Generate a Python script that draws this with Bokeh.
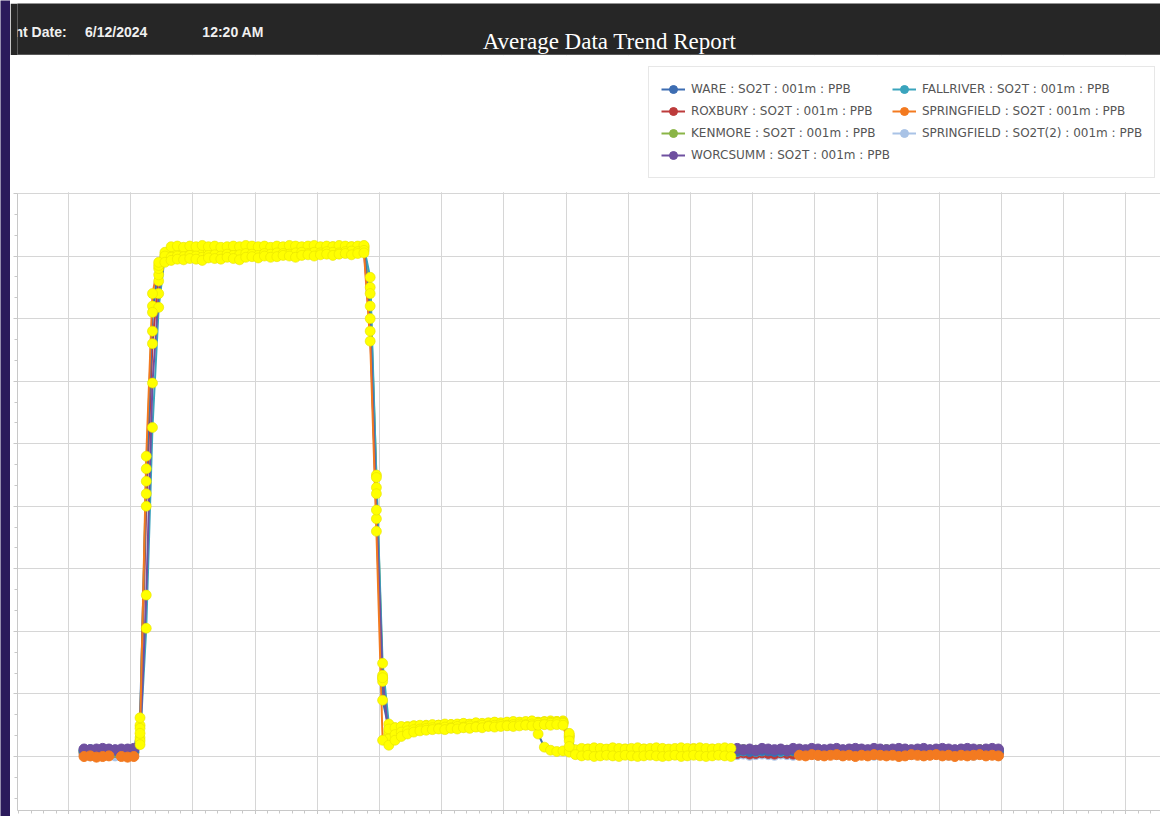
from bokeh.plotting import figure
from bokeh.models import (ColumnDataSource, Range1d, Legend, LegendItem, Label,
                          SingleIntervalTicker, CDSView, IndexFilter, Span,
                          CustomLabelingPolicy, BoxAnnotation)
from bokeh.layouts import column, row
from bokeh.embed import file_html
from bokeh.resources import INLINE

nan = float("nan")

# sample times (minutes, sampled at the half minute)
minute = [m + 0.5 for m in range(12, 160)]

ware = [
    1.0, 1.1, 1.0, 0.9, 1.1, 1.0, 1.0, 1.1, 0.9,
    6.2, 44.0, 71.0, 78.5,
    80.6,
    81.5, 81.6, 81.4, 81.6, 81.5, 81.7, 81.5, 81.6, 81.4, 81.5,
    81.6, 81.5, 81.7, 81.6, 81.5, 81.6, 81.4, 81.6, 81.5, 81.7,
    81.6, 81.5, 81.6, 81.7, 81.5, 81.6, 81.5, 81.7, 81.6, 81.5,
    81.6, 81.7,
    70.0, 38.0, 9.0,
    4.4, 4.6, 4.8, 4.7, 4.9, 5.0, 4.9, 5.1, 5.0, 5.2,
    5.1, 5.2, 5.3, 5.2, 5.4, 5.3, 5.4, 5.5, 5.4, 5.5,
    5.6, 5.5, 5.6, 5.7,
    3.6, 1.5, 1.0, 0.8, 0.9,
    0.7, 0.9,
    0.8, 1.0, 0.9, 0.8, 1.0, 0.9, 1.1, 0.9, 0.8, 1.0,
    0.9, 1.0, 1.1, 0.9, 1.0, 0.8, 0.9, 1.0, 1.1, 0.9,
    1.0, 0.9, 1.0, 1.1, 1.0,
    0.9, 1.0, 0.8, 0.9, 1.0, 0.9, 0.8, 1.0, 0.9, 1.0,
    0.9, 0.8, 1.0, 0.9, 1.0, 0.8, 0.9, 1.0, 0.9, 1.0,
    0.8, 0.9, 1.0, 0.9, 0.8, 1.0, 0.9, 1.0, 0.9, 0.8,
    1.0, 0.9, 1.0, 0.9, 0.8, 0.9, 1.0, 0.9, 1.0, 0.8,
    0.9, 1.0, 0.9,
]

roxbury = [
    0.6, 0.7, 0.6, 0.5, 0.6, 0.7, 0.6, 0.5, 0.6,
    3.0, 40.0, 66.0, 77.0,
    79.5,
    80.0, 80.2, 80.1, 80.3, 80.2, 80.0, 80.3, 80.4, 80.2, 80.5,
    80.4, 80.3, 80.6, 80.5, 80.4, 80.7, 80.5, 80.6, 80.8, 80.7,
    80.6, 80.8, 80.9, 80.7, 80.9, 80.8, 81.0, 80.9, 80.8, 81.0,
    81.1, 81.0,
    72.0, 42.0, 12.0,
    3.4, 3.9, 4.2, 4.4, 4.5, 4.6, 4.5, 4.7, 4.8, 4.7,
    4.9, 4.8, 5.0, 4.9, 5.1, 5.0, 5.1, 5.2, 5.1, 5.3,
    5.2, 5.3, 5.4, 5.3, 5.4, 5.5, 5.4, 5.5, 5.4,
    3.0, 0.7,
    0.5, 0.6, 0.4, 0.6, 0.5, 0.7, 0.5, 0.6, 0.4, 0.5,
    0.6, 0.5, 0.7, 0.6, 0.5, 0.4, 0.6, 0.5, 0.7, 0.6,
    0.5, 0.6, 0.4, 0.5, 0.6,
    0.5, 0.6, 0.4, 0.5, 0.6, 0.5, 0.4, 0.6, 0.5, 0.4,
    0.6, 0.5, 0.6, 0.4, 0.5, 0.6, 0.5, 0.4, 0.6, 0.5,
    0.6, 0.5, 0.4, 0.5, 0.6, 0.5, 0.4, 0.6, 0.5, 0.6,
    0.4, 0.5, 0.6, 0.5, 0.4, 0.5, 0.6, 0.5, 0.4, 0.6,
    0.5, 0.5, 0.6,
]

kenmore = [
    0.8, 0.7, 0.9, 0.8, 0.8, 0.7, 0.9, 0.8, 0.7,
    4.5, 46.0, 72.0, 78.0,
    79.8,
    80.3, 80.5, 80.4, 80.6, 80.5, 80.4, 80.7, 80.6, 80.5, 80.8,
    80.6, 80.7, 80.9, 80.8, 80.6, 80.9, 80.8, 81.0, 80.9, 80.8,
    81.0, 81.1, 80.9, 81.0, 81.1, 81.0, 81.2, 81.1, 81.0, 81.2,
    81.1, 81.3,
    74.0, 45.0, 13.0,
    4.0, 4.3, 4.4, 4.6, 4.6, 4.7, 4.8, 4.7, 4.9, 4.8,
    5.0, 4.9, 5.1, 5.0, 5.2, 5.1, 5.2, 5.3, 5.2, 5.3,
    5.4, 5.3, 5.4, 5.5, 5.4, 5.5, 5.4, 5.6, 5.5,
    3.4, 0.9,
    1.1, 1.2, 1.0, 1.2, 1.1, 1.3, 1.1, 1.2, 1.0, 1.1,
    1.2, 1.1, 1.3, 1.2, 1.1, 1.0, 1.2, 1.1, 1.3, 1.2,
    1.1, 1.2, 1.0, 1.1, 1.2,
    1.0, 1.1, 0.9, 1.0, 1.1, 1.0, 0.9, 1.1, 1.0, 0.9,
    1.1, 1.0, 1.1, 0.9, 1.0, 1.1, 1.0, 0.9, 1.1, 1.0,
    1.1, 1.0, 0.9, 1.0, 1.1, 1.0, 0.9, 1.1, 1.0, 1.1,
    0.9, 1.0, 1.1, 1.0, 0.9, 1.0, 1.1, 1.0, 0.9, 1.1,
    1.0, 1.0, 0.9,
]

worcsumm = [
    1.2, 1.1, 1.2, 1.3, 1.2, 1.1, 1.2, 1.2, 1.3,
    1.9, 25.8, 59.7, 74.0,
    80.0,
    79.8, 80.0, 79.9, 80.1, 80.0, 79.8, 80.1, 80.2, 80.0, 80.3,
    80.1, 80.2, 80.4, 80.3, 80.1, 80.4, 80.3, 80.5, 80.4, 80.3,
    80.5, 80.6, 80.4, 80.6, 80.5, 80.7, 80.6, 80.5, 80.7, 80.8,
    80.7, 80.9,
    68.0, 39.4, 12.6,
    2.8, 3.5, 3.9, 4.1, 4.3, 4.4, 4.5, 4.6, 4.5, 4.7,
    4.6, 4.8, 4.7, 4.9, 4.8, 5.0, 4.9, 5.0, 5.1, 5.0,
    5.1, 5.2, 5.1, 5.2, 5.3, 5.2, 5.3, 5.4, 5.3,
    2.5, 1.1,
    1.3, 1.2, 1.4, 1.3, 1.2, 1.4, 1.3, 1.2, 1.3, 1.4,
    1.2, 1.3, 1.4, 1.3, 1.2, 1.3, 1.4, 1.3, 1.2, 1.4,
    1.3, 1.2, 1.3, 1.4, 1.3,
    1.3, 1.1, 1.2, 1.0, 1.3, 1.2, 1.1, 1.2, 1.0, 1.3,
    1.2, 1.1, 1.3, 1.2, 1.1, 1.2, 1.3, 1.1, 1.2, 1.3,
    1.2, 1.1, 1.3, 1.2, 1.1, 1.2, 1.3, 1.2, 1.1, 1.2,
    1.3, 1.1, 1.2, 1.3, 1.2, 1.1, 1.2, 1.3, 1.2, 1.1,
    1.2, 1.3, 1.2,
]

fallriver = [
    0.9, 1.0, 0.9, 0.9, 1.0, 0.9, 0.8, 0.9, 1.0,
    2.5, 20.5, 52.6, 71.8,
    80.2,
    81.0, 81.1, 80.9, 81.2, 81.0, 81.1, 80.8, 81.0, 81.2, 81.1,
    80.9, 81.0, 81.2, 81.1, 81.0, 81.3, 81.1, 81.0, 81.2, 81.3,
    81.1, 81.2, 81.0, 81.3, 81.2, 81.1, 81.3, 81.2, 81.4, 81.3,
    81.2, 81.4,
    76.6, 44.6, 14.9,
    5.2, 4.6, 4.7, 4.8, 4.9, 4.8, 5.0, 4.9, 5.0, 4.9,
    5.0, 5.1, 5.0, 5.1, 5.2, 5.1, 5.2, 5.3, 5.2, 5.3,
    5.4, 5.3, 5.4, 5.3, 5.4, 5.5, 5.4, 5.5, 5.4,
    3.7, 1.0,
    0.9, 1.1, 1.0, 0.9, 1.1, 1.0, 0.8, 1.0, 1.1, 0.9,
    1.0, 1.1, 0.9, 1.0, 0.8, 1.0, 1.1, 0.9, 1.0, 1.1,
    0.9, 1.0, 0.8, 1.0, 1.1,
    0.8, 0.9, 1.0, 0.8, 0.9, 1.0, 0.9, 0.8, 0.9, 1.0,
    0.8, 0.9, 1.0, 0.9, 0.8, 1.0, 0.9, 0.8, 0.9, 1.0,
    0.9, 0.8, 1.0, 0.9, 1.0, 0.8, 0.9, 1.0, 0.9, 0.8,
    0.9, 1.0, 0.9, 0.8, 1.0, 0.9, 0.8, 0.9, 1.0, 0.9,
    0.8, 0.9, 1.0,
]

springfield = [
    0.0, 0.1, -0.1, 0.0, 0.1, nan, 0.0, -0.1, 0.0,
    3.7, 48.0, 74.0, 79.0,
    79.0,
    79.3, 79.5, 79.4, 79.6, 79.5, 79.3, 79.7, 79.6, 79.5, 79.8,
    79.6, 79.4, 79.8, 79.9, 79.7, 80.0, 79.8, 79.9, 80.1, 80.0,
    79.8, 80.1, 80.2, 80.0, 80.2, 80.3, 80.1, 80.3, 80.4, 80.2,
    80.4, 80.5,
    66.4, 36.0, 2.6,
    1.8, 2.6, 3.2, 3.6, 3.9, 4.1, 4.2, 4.3, 4.4, 4.3,
    4.5, 4.4, 4.6, 4.5, 4.7, 4.6, 4.8, 4.7, 4.8, 4.9,
    4.8, 4.9, 5.0, 4.9, 5.0, 5.1, 5.0, 5.1, 5.0,
    1.6, 0.3,
    0.1, 0.2, 0.0, 0.1, 0.2, 0.1, 0.0, 0.2, 0.1, 0.0,
    0.1, 0.2, 0.1, 0.0, 0.1, 0.2, 0.0, 0.1, 0.2, 0.1,
    0.0, 0.1, 0.2, 0.1, 0.0,
    nan, nan, nan, nan, nan, nan, nan, nan, nan, nan,
    0.2, 0.1, 0.3, 0.2, 0.1, 0.2, 0.3, 0.1, 0.2, 0.0,
    0.2, 0.1, 0.3, 0.2, 0.1, 0.2, 0.0, 0.1, 0.3, 0.2,
    0.1, 0.2, 0.3, 0.1, 0.2, 0.0, 0.2, 0.1, 0.2, 0.3,
    0.1, 0.2, 0.1,
]

springfield2 = [
    0.2, 0.1, 0.2, 0.3, 0.2, 0.1, 0.2, 0.3, 0.2,
    5.0, 42.0, 68.0, 76.0,
    79.6,
    80.6, 80.8, 80.7, 80.9, 80.8, 80.7, 81.0, 80.9, 80.8, 81.1,
    80.9, 81.0, 81.2, 81.1, 80.9, 81.2, 81.1, 81.3, 81.2, 81.1,
    81.3, 81.4, 81.2, 81.3, 81.4, 81.3, 81.5, 81.4, 81.3, 81.5,
    81.4, 81.6,
    75.0, 43.0, 12.5,
    3.6, 4.1, 4.4, 4.6, 4.7, 4.8, 4.9, 4.8, 5.0, 4.9,
    5.1, 5.0, 5.2, 5.1, 5.3, 5.2, 5.3, 5.4, 5.3, 5.4,
    5.5, 5.4, 5.5, 5.6, 5.5, 5.6, 5.7, 5.6, 5.7,
    3.2, 0.6,
    0.3, 0.4, 0.2, 0.3, 0.4, 0.3, 0.2, 0.4, 0.3, 0.2,
    0.3, 0.4, 0.3, 0.2, 0.3, 0.4, 0.2, 0.3, 0.4, 0.3,
    0.2, 0.3, 0.4, 0.3, 0.2,
    0.3, 0.4, 0.2, 0.3, 0.4, 0.3, 0.2, 0.4, 0.3, 0.2,
    0.4, 0.3, 0.4, 0.2, 0.3, 0.4, 0.3, 0.2, 0.4, 0.3,
    0.4, 0.3, 0.2, 0.3, 0.4, 0.3, 0.2, 0.4, 0.3, 0.4,
    0.2, 0.3, 0.4, 0.3, 0.2, 0.3, 0.4, 0.3, 0.2, 0.4,
    0.3, 0.3, 0.2,
]

labels = [
    "WARE : SO2T : 001m : PPB",
    "ROXBURY : SO2T : 001m : PPB",
    "KENMORE : SO2T : 001m : PPB",
    "WORCSUMM : SO2T : 001m : PPB",
    "FALLRIVER : SO2T : 001m : PPB",
    "SPRINGFIELD : SO2T : 001m : PPB",
    "SPRINGFIELD : SO2T(2) : 001m : PPB",
]
values = [ware, roxbury, kenmore, worcsumm, fallriver, springfield, springfield2]
colors = ["#3d6db2", "#bd3b3b", "#8ab547", "#6f50a0", "#3aa4bd", "#f37a20", "#a9c3e6"]
draw_order = [6, 1, 2, 4, 0, 3, 5]   # bottom -> top
highlight = (21, 117)                 # minutes shown with the yellow highlight markers
y_top = 90                            # top of the plotted value band

for v in values:
    if len(v) != len(minute):
        raise ValueError("length %d" % len(v))

BG = "#2b1a5c"


def blank(w, h, color):
    f = figure(width=w, height=h, toolbar_location=None, output_backend="svg",
               x_axis_location=None, y_axis_location=None, min_border=0,
               background_fill_color=color, border_fill_color=color, outline_line_color=None)
    f.grid.visible = False
    return f


strip_left = blank(10, 816, BG)
strip_top = blank(1150, 3, BG)

# ---------------- header band ----------------
header = figure(width=1150, height=52, x_range=Range1d(0, 1150), y_range=Range1d(0, 52),
                toolbar_location=None, output_backend="svg",
                x_axis_location=None, y_axis_location=None, min_border=0,
                background_fill_color="#262626", border_fill_color="#262626",
                outline_line_color=None)
header.grid.visible = False
hfont = "Liberation Sans"
for hx, htxt in [(-3, "nt Date:"), (68, "6/12/2024"), (186, "12:20 AM")]:
    header.add_layout(Label(x=hx, y=16, text=htxt, text_color="#f0f0f0", text_font=hfont,
                            text_font_size="14px", text_font_style="bold"))
header.add_layout(Label(x=468, y=2, text="Average Data Trend Report", text_color="#ffffff",
                        text_font="Liberation Serif", text_font_size="23px"))
header.add_layout(Span(location=0.5, dimension="width", line_color="#8a8a8a", line_width=1))

# ---------------- chart ----------------
p = figure(frame_width=1143, frame_height=755,
           x_range=Range1d(1.8, 185.56), y_range=Range1d(-8.63, 112.06),
           toolbar_location=None, output_backend="svg",
           min_border_left=7, min_border_right=0, min_border_top=0, min_border_bottom=0,
           background_fill_color="white", border_fill_color="white",
           outline_line_color=None)

p.xaxis.ticker = SingleIntervalTicker(interval=10, num_minor_ticks=5)
p.yaxis.ticker = SingleIntervalTicker(interval=10, num_minor_ticks=3)
p.yaxis.bounds = (-8.63, y_top)
for ax in (p.xaxis[0], p.yaxis[0]):
    ax.major_label_text_font_size = "0px"
    ax.major_label_standoff = 0
    ax.major_label_policy = CustomLabelingPolicy(code="return []")
    ax.axis_line_color = "#c8c8c8"
    ax.major_tick_line_color = "#c8c8c8"
    ax.minor_tick_line_color = "#c8c8c8"
    ax.major_tick_in = 0
    ax.major_tick_out = 4
    ax.minor_tick_in = 0
    ax.minor_tick_out = 3
p.grid.grid_line_color = "#d6d6d6"
p.grid.grid_line_width = 1

sources = [ColumnDataSource(dict(x=minute, y=v)) for v in values]
own_idx = [i for i, m in enumerate(minute) if not (highlight[0] <= m < highlight[1])]
hi_idx = [i for i, m in enumerate(minute) if highlight[0] <= m < highlight[1]]

line_r = {}
for s in draw_order:
    line_r[s] = p.line("x", "y", source=sources[s], line_color=colors[s], line_width=2)

own_r = {}
for s in draw_order:
    own_r[s] = p.scatter("x", "y", source=sources[s], view=CDSView(filter=IndexFilter(own_idx)),
                         marker="circle", size=10, fill_color=colors[s], line_color=colors[s])
    p.scatter("x", "y", source=sources[s], view=CDSView(filter=IndexFilter(hi_idx)),
              marker="circle", size=10, fill_color="#ffff00", line_color="#e6e000", line_width=0.6)

# blank area above the value band (where the legend sits)
p.add_layout(BoxAnnotation(bottom=y_top + 0.2, fill_color="white", fill_alpha=1.0,
                           line_color=None))

items = [LegendItem(label=labels[s], renderers=[line_r[s], own_r[s]]) for s in range(len(labels))]
legend = Legend(items=items, location=(631, 632), nrows=4, orientation="vertical",
                label_text_font="DejaVu Sans", label_text_font_size="12px",
                label_text_color="#555555", glyph_width=24, glyph_height=20,
                label_height=20, label_standoff=6, spacing=2, padding=12, margin=0,
                border_line_color="#d0d0d0", border_line_width=1,
                background_fill_color="white", background_fill_alpha=1.0)
p.add_layout(legend)

layout = row(strip_left, column(strip_top, header, p, spacing=0), spacing=0)
open("out.html", "w").write(file_html(layout, INLINE))
